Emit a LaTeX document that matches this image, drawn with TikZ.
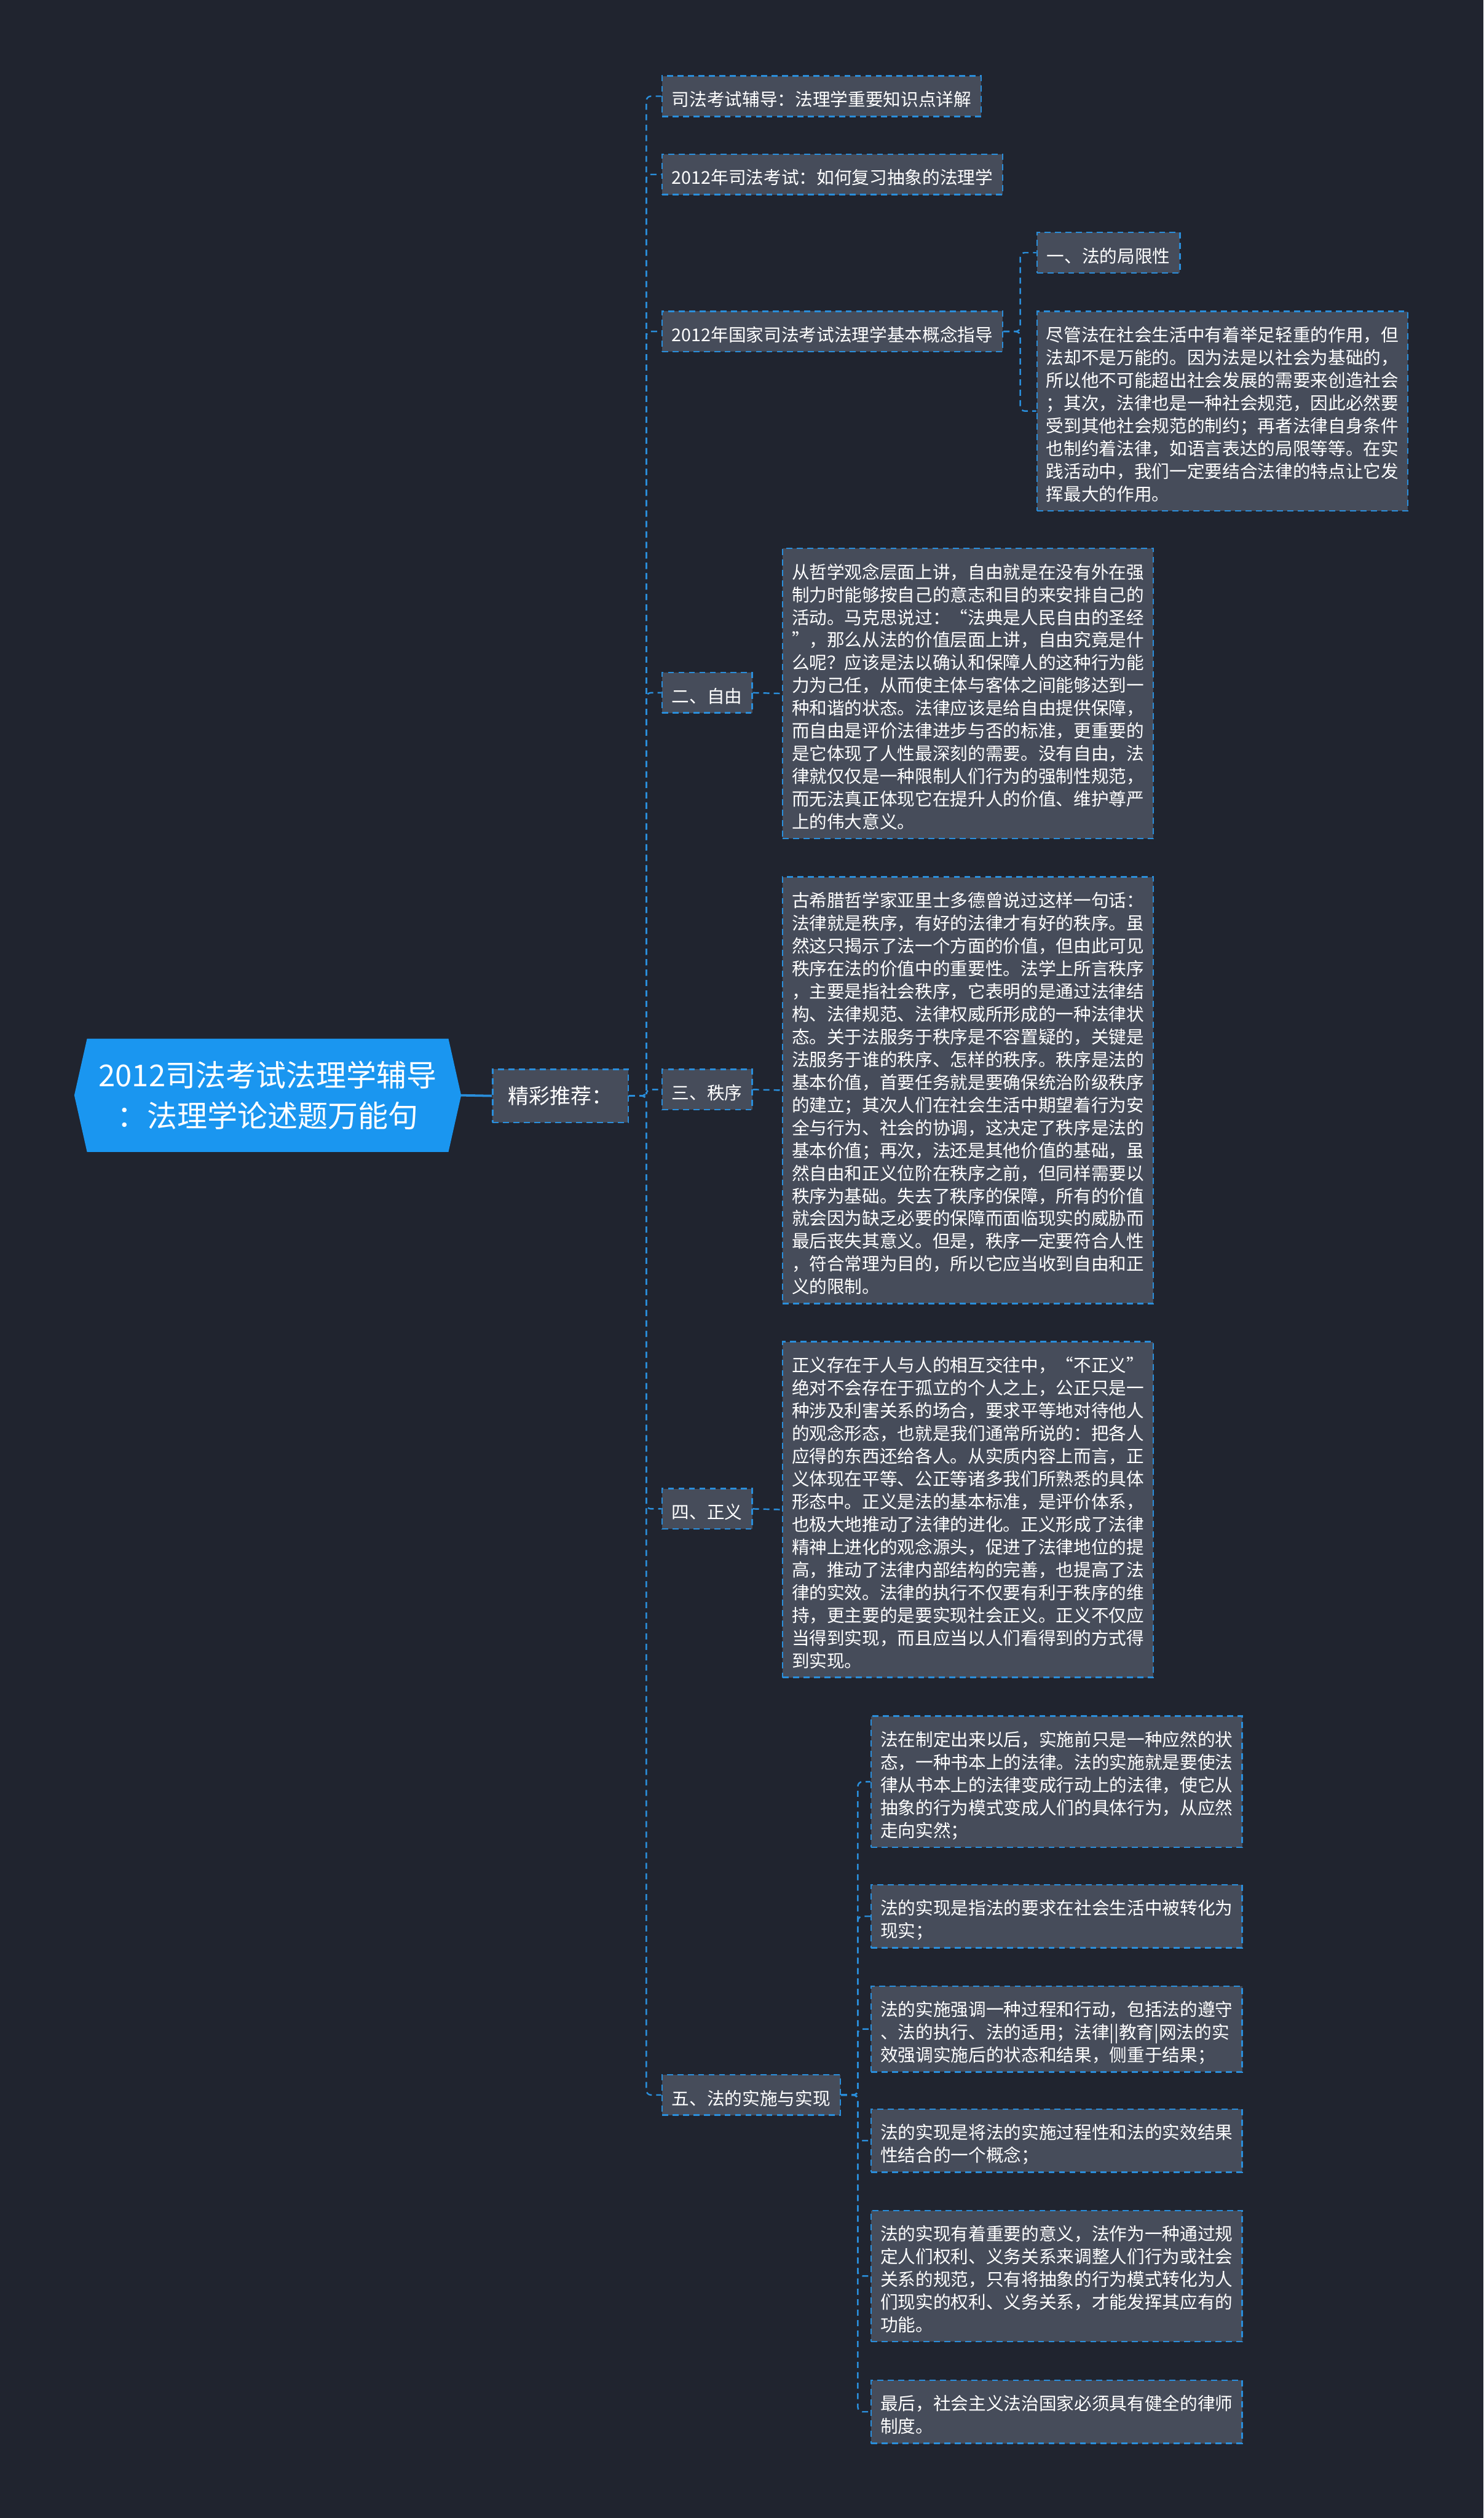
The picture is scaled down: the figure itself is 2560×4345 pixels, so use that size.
\documentclass[tikz,border=0pt]{standalone}
\usepackage{fontspec}
\setmainfont{Noto Sans CJK SC}
\newcommand\fwq[1]{{\addfontfeature{CharacterWidth=Full}#1}}
\newcommand\txl[1]{\rule{0pt}{13pt}#1\rule[-4.4pt]{0pt}{4.4pt}}
\definecolor{bgc}{HTML}{20242F}
\definecolor{boxfill}{HTML}{464C5A}
\definecolor{edgeblue}{HTML}{2A8EDB}
\definecolor{rootblue}{HTML}{1A96F0}
\tikzset{
  conn/.style={draw=edgeblue, line width=0.65pt, dash pattern=on 2.6pt off 1.9pt, rounded corners=2pt},
  lbl/.style={draw=edgeblue, fill=boxfill, line width=0.65pt, dash pattern=on 2.6pt off 1.9pt,
    text=white, font=\fontsize{7.6pt}{9.8pt}\selectfont, inner xsep=4.25pt, inner ysep=0pt, align=left},
  para/.style={lbl, text width=152pt, inner xsep=4pt, anchor=north west},
}
\begin{document}
\begin{tikzpicture}[x=0.25pt,y=-0.25pt]
\useasboundingbox (0,0) rectangle (2560,4345);
\fill[bgc] (0,0) rectangle (2560,4345);

% root
\node[minimum width=166.5pt, minimum height=48.5pt, inner sep=0pt] (rootshape) at (462,1890) {};
\fill[rootblue] (rootshape.west) -- ([xshift=5.5pt]rootshape.north west) -- ([xshift=-5.5pt]rootshape.north east)
  -- (rootshape.east) -- ([xshift=-5.5pt]rootshape.south east) -- ([xshift=5.5pt]rootshape.south west) -- cycle;
\node[text=white, font=\fontsize{13pt}{17.5pt}\selectfont, align=center, inner sep=0pt] (root) at (rootshape.center)
  {2012司法考试法理学辅导\\：法理学论述题万能句};

% level 1
\node[lbl, font=\fontsize{9pt}{11pt}\selectfont, minimum height=23pt, inner xsep=6.75pt] (jc) at (967,1891) {精彩推荐：};

% level 2
\node[lbl, anchor=west] (n1) at (1141,166) {\txl{司法考试辅导：法理学重要知识点详解}};
\node[lbl, anchor=west] (n2) at (1141,301) {\txl{2012年司法考试：如何复习抽象的法理学}};
\node[lbl, anchor=west] (n3) at (1141,572) {\txl{2012年国家司法考试法理学基本概念指导}};
\node[lbl, anchor=west] (n4) at (1141,1195.4) {\txl{二、自由}};
\node[lbl, anchor=west] (n5) at (1141,1880) {\txl{三、秩序}};
\node[lbl, anchor=west] (n6) at (1141,2603.6) {\txl{四、正义}};
\node[lbl, anchor=west] (n7) at (1141,3615) {\txl{五、法的实施与实现}};

% level 3 under n3
\node[lbl, anchor=west] (m1) at (1788,436) {\txl{一、法的局限性}};
\node[para] (m2) at (1788,536) {\txl{尽管法在社会生活中有着举足轻重的作用，但\\
法却不是万能的。因为法是以社会为基础的，\\
所以他不可能超出社会发展的需要来创造社会\\
；其次，法律也是一种社会规范，因此必然要\\
受到其他社会规范的制约；再者法律自身条件\\
也制约着法律，如语言表达的局限等等。在实\\
践活动中，我们一定要结合法律的特点让它发\\
挥最大的作用。}};

% texts
\node[para] (t4) at (1349,945) {\txl{从哲学观念层面上讲，自由就是在没有外在强\\
制力时能够按自己的意志和目的来安排自己的\\
活动。马克思说过：\fwq{“}法典是人民自由的圣经\\
\fwq{”}，那么从法的价值层面上讲，自由究竟是什\\
么呢？应该是法以确认和保障人的这种行为能\\
力为己任，从而使主体与客体之间能够达到一\\
种和谐的状态。法律应该是给自由提供保障，\\
而自由是评价法律进步与否的标准，更重要的\\
是它体现了人性最深刻的需要。没有自由，法\\
律就仅仅是一种限制人们行为的强制性规范，\\
而无法真正体现它在提升人的价值、维护尊严\\
上的伟大意义。}};

\node[para] (t5) at (1349,1512) {\txl{古希腊哲学家亚里士多德曾说过这样一句话：\\
法律就是秩序，有好的法律才有好的秩序。虽\\
然这只揭示了法一个方面的价值，但由此可见\\
秩序在法的价值中的重要性。法学上所言秩序\\
，主要是指社会秩序，它表明的是通过法律结\\
构、法律规范、法律权威所形成的一种法律状\\
态。关于法服务于秩序是不容置疑的，关键是\\
法服务于谁的秩序、怎样的秩序。秩序是法的\\
基本价值，首要任务就是要确保统治阶级秩序\\
的建立；其次人们在社会生活中期望着行为安\\
全与行为、社会的协调，这决定了秩序是法的\\
基本价值；再次，法还是其他价值的基础，虽\\
然自由和正义位阶在秩序之前，但同样需要以\\
秩序为基础。失去了秩序的保障，所有的价值\\
就会因为缺乏必要的保障而面临现实的威胁而\\
最后丧失其意义。但是，秩序一定要符合人性\\
，符合常理为目的，所以它应当收到自由和正\\
义的限制。}};

\node[para] (t6) at (1349,2314) {\txl{正义存在于人与人的相互交往中，\fwq{“}不正义\fwq{”}\\
绝对不会存在于孤立的个人之上，公正只是一\\
种涉及利害关系的场合，要求平等地对待他人\\
的观念形态，也就是我们通常所说的：把各人\\
应得的东西还给各人。从实质内容上而言，正\\
义体现在平等、公正等诸多我们所熟悉的具体\\
形态中。正义是法的基本标准，是评价体系，\\
也极大地推动了法律的进化。正义形成了法律\\
精神上进化的观念源头，促进了法律地位的提\\
高，推动了法律内部结构的完善，也提高了法\\
律的实效。法律的执行不仅要有利于秩序的维\\
持，更主要的是要实现社会正义。正义不仅应\\
当得到实现，而且应当以人们看得到的方式得\\
到实现。}};

\node[para] (s1) at (1502,2960) {\txl{法在制定出来以后，实施前只是一种应然的状\\
态，一种书本上的法律。法的实施就是要使法\\
律从书本上的法律变成行动上的法律，使它从\\
抽象的行为模式变成人们的具体行为，从应然\\
走向实然；}};
\node[para] (s2) at (1502,3251) {\txl{法的实现是指法的要求在社会生活中被转化为\\
现实；}};
\node[para] (s3) at (1502,3426) {\txl{法的实施强调一种过程和行动，包括法的遵守\\
、法的执行、法的适用；法律||教育|网法的实\\
效强调实施后的状态和结果，侧重于结果；}};
\node[para] (s4) at (1502,3638) {\txl{法的实现是将法的实施过程性和法的实效结果\\
性结合的一个概念；}};
\node[para] (s5) at (1502,3813) {\txl{法的实现有着重要的意义，法作为一种通过规\\
定人们权利、义务关系来调整人们行为或社会\\
关系的规范，只有将抽象的行为模式转化为人\\
们现实的权利、义务关系，才能发挥其应有的\\
功能。}};
\node[para] (s6) at (1502,4106) {\txl{最后，社会主义法治国家必须具有健全的律师\\
制度。}};

% connectors
\draw[edgeblue, line width=1pt] (rootshape.east) -- (jc.west);
\foreach \c in {n1,n2,n3,n4,n5,n6,n7}
  \draw[conn] (jc.east) -- ++(30,0) |- (\c.west);
\foreach \c in {m1,m2}
  \draw[conn] (n3.east) -- ++(29,0) |- (\c.west);
\draw[conn] (n4.east) -- (t4.west);
\draw[conn] (n5.east) -- (t5.west);
\draw[conn] (n6.east) -- (t6.west);
\foreach \c in {s1,s2,s3,s4,s5,s6}
  \draw[conn] (n7.east) -- ++(29,0) |- (\c.west);
\end{tikzpicture}
\end{document}
